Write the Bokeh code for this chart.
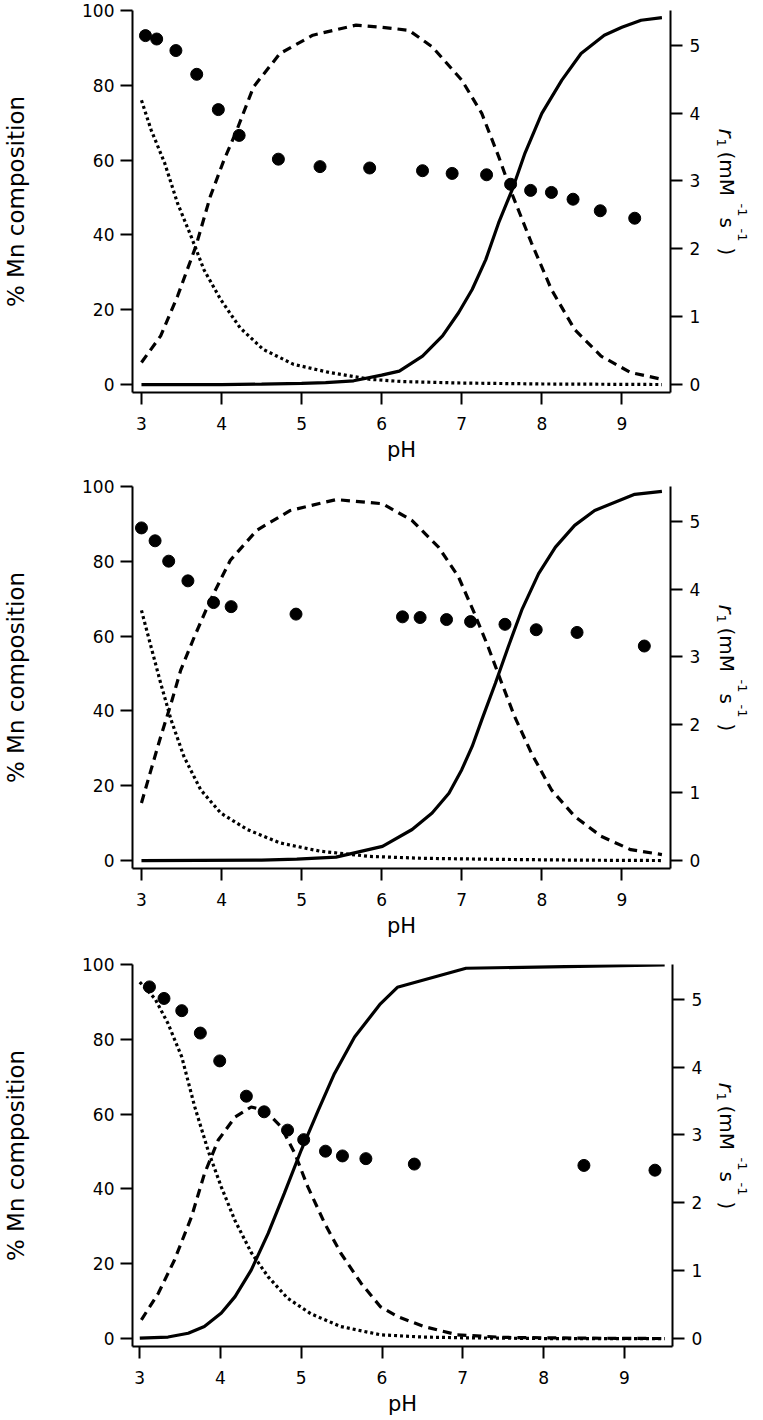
import math
from bokeh.plotting import figure
from bokeh.models import Range1d, LinearAxis, FixedTicker
from bokeh.layouts import column, row
from bokeh.core.properties import value
from bokeh.embed import file_html
from bokeh.resources import INLINE

FONT = "DejaVu Sans"

# ---------------- data ----------------
x_ticks = [3, 4, 5, 6, 7, 8, 9]
left_ticks = [0, 20, 40, 60, 80, 100]
right_ticks = [0, 1, 2, 3, 4, 5]
x_label = "pH"
left_label = "% Mn composition"
# right title pieces: r1 (mM-1 s-1)
right_title = ["r", "1", "(mM", "-1", "s", "-1", ")"]

# Panel 1
p1_pts_ph = [3.05, 3.19, 3.43, 3.69, 3.96, 4.22, 4.71, 5.23, 5.85, 6.51, 6.88, 7.31, 7.61, 7.86, 8.12, 8.39, 8.73, 9.16]
p1_pts_r1 = [5.14, 5.09, 4.92, 4.57, 4.05, 3.67, 3.32, 3.21, 3.19, 3.15, 3.11, 3.09, 2.95, 2.86, 2.83, 2.73, 2.56, 2.45]
p1_dot_ph = [3.0, 3.12, 3.29, 3.45, 3.62, 3.78, 3.99, 4.23, 4.52, 4.90, 5.35, 5.85, 6.25, 7.0, 8.0, 9.0, 9.5]
p1_dot_pc = [76.0, 68.1, 59.2, 48.5, 39.6, 30.7, 22.7, 15.2, 9.4, 5.4, 3.2, 1.4, 0.8, 0.4, 0.15, 0.05, 0.0]
p1_dash_ph = [3.0, 3.24, 3.45, 3.68, 3.86, 4.03, 4.19, 4.40, 4.73, 5.14, 5.68, 6.01, 6.34, 6.63, 7.0, 7.25, 7.46, 7.64, 7.87, 8.12, 8.41, 8.74, 9.11, 9.50]
p1_dash_pc = [5.9, 13.0, 23.6, 37.0, 50.3, 60.0, 68.0, 79.6, 88.5, 93.4, 96.1, 95.5, 94.7, 90.3, 81.4, 72.5, 61.0, 50.3, 37.9, 25.4, 14.7, 7.6, 3.2, 1.4]
p1_sol_ph = [3.0, 4.0, 4.5, 5.0, 5.3, 5.65, 6.0, 6.22, 6.51, 6.76, 6.96, 7.13, 7.30, 7.46, 7.63, 7.79, 8.0, 8.25, 8.49, 8.78, 9.0, 9.24, 9.50]
p1_sol_pc = [0.0, 0.0, 0.1, 0.3, 0.5, 1.0, 2.5, 3.6, 7.6, 13.0, 19.2, 25.4, 33.4, 43.2, 52.1, 61.9, 72.5, 81.4, 88.5, 93.4, 95.5, 97.4, 98.1]

# Panel 2
p2_pts_ph = [3.0, 3.17, 3.34, 3.58, 3.90, 4.12, 4.93, 6.26, 6.48, 6.81, 7.11, 7.54, 7.93, 8.44, 9.28]
p2_pts_r1 = [4.90, 4.71, 4.41, 4.12, 3.80, 3.74, 3.63, 3.59, 3.58, 3.55, 3.52, 3.48, 3.40, 3.36, 3.16]
p2_dot_ph = [3.0, 3.12, 3.24, 3.37, 3.53, 3.74, 3.99, 4.32, 4.73, 5.23, 5.85, 6.5, 7.5, 8.5, 9.5]
p2_dot_pc = [66.9, 57.1, 47.4, 37.6, 27.8, 18.9, 12.7, 8.3, 4.7, 2.5, 1.1, 0.6, 0.3, 0.1, 0.0]
p2_dash_ph = [3.0, 3.12, 3.24, 3.37, 3.49, 3.66, 3.86, 4.11, 4.44, 4.86, 5.43, 6.01, 6.38, 6.71, 6.96, 7.16, 7.33, 7.50, 7.66, 7.87, 8.12, 8.41, 8.74, 9.11, 9.50]
p2_dash_pc = [15.4, 24.3, 33.1, 42.0, 50.9, 59.8, 69.6, 80.3, 88.3, 93.6, 96.5, 95.4, 90.9, 83.8, 75.8, 66.0, 57.1, 47.4, 38.5, 28.7, 18.9, 11.8, 6.5, 2.9, 1.6]
p2_sol_ph = [3.0, 4.5, 4.94, 5.43, 6.01, 6.38, 6.63, 6.84, 7.0, 7.13, 7.25, 7.42, 7.58, 7.75, 7.96, 8.17, 8.41, 8.66, 9.16, 9.50]
p2_sol_pc = [0.0, 0.1, 0.4, 0.9, 3.8, 8.3, 12.7, 18.0, 24.3, 30.5, 37.6, 47.4, 57.1, 67.0, 76.7, 83.8, 89.6, 93.6, 97.9, 98.7]

# Panel 3
p3_pts_ph = [3.12, 3.30, 3.52, 3.75, 3.99, 4.32, 4.54, 4.83, 5.03, 5.30, 5.51, 5.80, 6.40, 8.50, 9.38]
p3_pts_r1 = [5.18, 5.01, 4.83, 4.50, 4.09, 3.57, 3.34, 3.07, 2.93, 2.76, 2.69, 2.65, 2.57, 2.55, 2.48]
p3_dot_ph = [3.0, 3.19, 3.35, 3.52, 3.68, 3.85, 4.01, 4.18, 4.38, 4.59, 4.83, 5.12, 5.49, 5.98, 6.5, 7.0, 8.0, 9.5]
p3_dot_pc = [95.3, 90.8, 84.2, 75.3, 62.0, 50.0, 40.5, 31.5, 23.0, 16.5, 10.8, 6.6, 3.2, 1.0, 0.4, 0.2, 0.0, 0.0]
p3_dash_ph = [3.02, 3.23, 3.43, 3.64, 3.80, 3.97, 4.18, 4.38, 4.55, 4.75, 4.92, 5.08, 5.29, 5.49, 5.74, 5.98, 6.19, 6.52, 6.93, 7.5, 8.5, 9.5]
p3_dash_pc = [5.0, 12.1, 21.0, 32.5, 44.0, 53.0, 59.2, 61.9, 61.0, 56.6, 49.5, 40.6, 30.8, 22.8, 14.8, 8.5, 5.9, 3.2, 1.0, 0.3, 0.1, 0.0]
p3_sol_ph = [3.0, 3.35, 3.60, 3.80, 4.01, 4.18, 4.38, 4.59, 4.79, 5.0, 5.21, 5.41, 5.66, 5.98, 6.19, 7.04, 9.50]
p3_sol_pc = [0.1, 0.4, 1.4, 3.2, 6.8, 11.2, 18.3, 28.1, 38.8, 50.4, 61.0, 70.8, 80.6, 89.5, 93.9, 99.0, 99.9]

MAIN_W = 710
LAB_W = 53
FRAME_H = 382
TOP = 10
LW = 3.2

panels = [
    dict(pts=(p1_pts_ph, p1_pts_r1), dot=(p1_dot_ph, p1_dot_pc), dash=(p1_dash_ph, p1_dash_pc), sol=(p1_sol_ph, p1_sol_pc),
         height=476, left=128, right=40, xr=(2.888, 9.607)),
    dict(pts=(p2_pts_ph, p2_pts_r1), dot=(p2_dot_ph, p2_dot_pc), dash=(p2_dash_ph, p2_dash_pc), sol=(p2_sol_ph, p2_sol_pc),
         height=478, left=128, right=40, xr=(2.888, 9.607)),
    dict(pts=(p3_pts_ph, p3_pts_r1), dot=(p3_dot_ph, p3_dot_pc), dash=(p3_dash_ph, p3_dash_pc), sol=(p3_sol_ph, p3_sol_pc),
         height=466, left=131, right=38, xr=(2.91, 9.597)),
]


def style_axis(ax, standoff):
    ax.axis_line_width = 2
    ax.axis_line_color = "black"
    ax.major_tick_line_width = 2
    ax.major_tick_line_color = "black"
    ax.major_tick_out = 12
    ax.major_tick_in = 0
    ax.minor_tick_line_color = None
    ax.major_label_text_font = FONT
    ax.major_label_text_font_size = "17px"
    ax.major_label_text_color = "black"
    ax.major_label_standoff = standoff
    ax.axis_label_text_font = FONT
    ax.axis_label_text_font_style = "normal"
    ax.axis_label_text_color = "black"


def make_panel(cfg):
    h = cfg["height"]
    bottom = h - TOP - FRAME_H
    p = figure(width=MAIN_W, height=h, output_backend="svg", toolbar_location=None,
               x_range=Range1d(*cfg["xr"]), y_range=Range1d(-2.13, 100.0),
               min_border_top=TOP, min_border_bottom=bottom,
               min_border_left=cfg["left"], min_border_right=cfg["right"])
    p.extra_y_ranges = {"r1": Range1d(-0.1174, 5.51)}
    p.outline_line_color = None
    p.xgrid.visible = False
    p.ygrid.visible = False
    p.background_fill_color = "white"
    p.border_fill_color = "white"

    xa = p.xaxis[0]
    style_axis(xa, 12)
    xa.ticker = FixedTicker(ticks=x_ticks)
    xa.axis_label = x_label
    xa.axis_label_text_font_size = "21px"
    xa.axis_label_standoff = 5

    ya = p.yaxis[0]
    style_axis(ya, 6)
    ya.ticker = FixedTicker(ticks=left_ticks)
    ya.axis_label = left_label
    ya.axis_label_text_font_size = "23px"
    ya.axis_label_standoff = 50

    ra = LinearAxis(y_range_name="r1")
    style_axis(ra, 7)
    ra.ticker = FixedTicker(ticks=right_ticks)
    p.add_layout(ra, "right")

    p.line(*cfg["dot"], line_color="black", line_width=LW, line_dash="3 3")
    p.line(*cfg["dash"], line_color="black", line_width=LW, line_dash="9 6")
    p.line(*cfg["sol"], line_color="black", line_width=LW)
    p.scatter(*cfg["pts"], y_range_name="r1", size=12, color="black")

    # narrow companion figure holding the right-axis title (reads top-to-bottom);
    # its frame is aligned with the main frame, so use pixel-sized ranges over the frame
    q = figure(width=LAB_W, height=h, output_backend="svg", toolbar_location=None,
               x_range=Range1d(0, LAB_W), y_range=Range1d(0, FRAME_H),
               min_border_left=0, min_border_right=0,
               min_border_top=TOP, min_border_bottom=bottom)
    q.axis.visible = False
    q.grid.visible = False
    q.outline_line_color = None
    q.background_fill_color = "white"
    q.border_fill_color = "white"
    main_b, sub_b, sup_b = 16, 11, 32
    styles = ["italic", "normal", "normal", "normal", "normal", "normal", "normal"]
    sizes = ["22px", "13px", "20px", "13px", "20px", "13px", "20px"]
    bases = [main_b, sub_b, main_b, sup_b, main_b, sup_b, main_b]
    starts = [118, 128, 141, 193, 207, 218, 237]
    for txt, st, sz, bx, s0 in zip(right_title, styles, sizes, bases, starts):
        q.text(x=[bx], y=[FRAME_H - s0], text=[txt], angle=-math.pi / 2,
               text_align="left", text_baseline="alphabetic",
               text_font=value(FONT), text_font_style=value(st), text_font_size=value(sz),
               text_color="black")
    return row(p, q, spacing=0)


rows = [make_panel(c) for c in panels]
layout = column(*rows, spacing=0)

open("out.html", "w").write(file_html(layout, INLINE))
